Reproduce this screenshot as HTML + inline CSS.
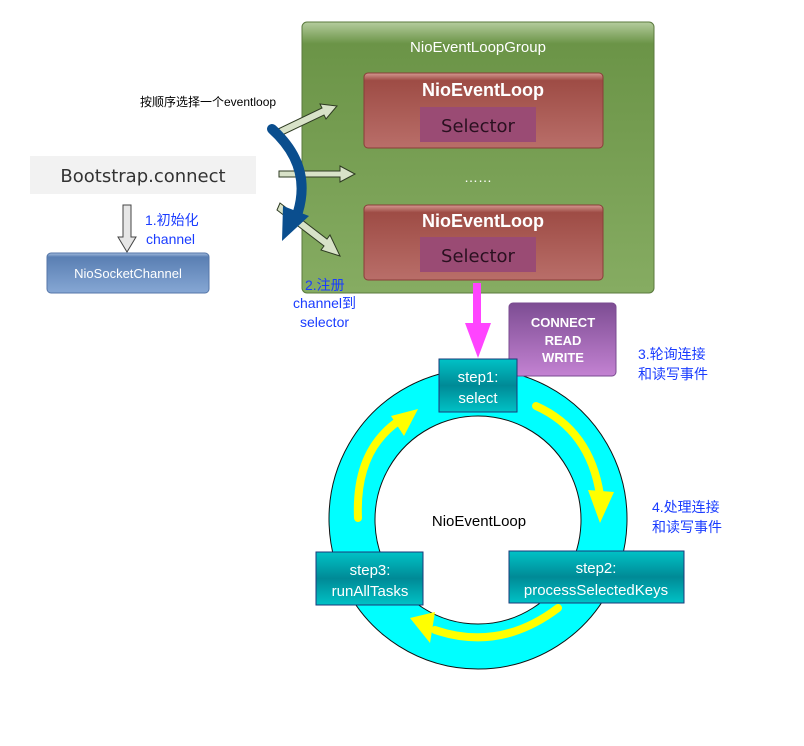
<!DOCTYPE html>
<html><head><meta charset="utf-8"><style>
body{margin:0;background:#fff}
svg text{font-family:"Liberation Sans","Noto Sans CJK SC",sans-serif}
</style></head><body>
<svg width="804" height="741" viewBox="0 0 804 741" xmlns="http://www.w3.org/2000/svg">
<defs>
<linearGradient id="g" x1="0" y1="0" x2="0" y2="1"><stop offset="0" stop-color="#b5cc9e"/><stop offset="0.08" stop-color="#6b9447"/><stop offset="1" stop-color="#86ac62"/></linearGradient>
<linearGradient id="r" x1="0" y1="0" x2="0" y2="1"><stop offset="0" stop-color="#d59a92"/><stop offset="0.1" stop-color="#9e4c45"/><stop offset="1" stop-color="#b96e69"/></linearGradient>
<linearGradient id="b" x1="0" y1="0" x2="0" y2="1"><stop offset="0" stop-color="#a6bfe0"/><stop offset="0.1" stop-color="#5a7fb3"/><stop offset="1" stop-color="#86a7d4"/></linearGradient>
<linearGradient id="p" x1="0" y1="0" x2="0" y2="1"><stop offset="0" stop-color="#7d4d93"/><stop offset="1" stop-color="#c382d2"/></linearGradient>
<linearGradient id="t" x1="0" y1="0" x2="0" y2="1"><stop offset="0" stop-color="#00c2c6"/><stop offset="0.5" stop-color="#008a96"/><stop offset="1" stop-color="#00c2c6"/></linearGradient>
</defs>
<rect x="302" y="22" width="352" height="271" rx="5" fill="url(#g)" stroke="#5b7a3e"/>
<text x="478" y="52" font-size="15" fill="#fff" text-anchor="middle">NioEventLoopGroup</text>
<rect x="364" y="73" width="239" height="75" rx="4" fill="url(#r)" stroke="#8a3d38"/>
<text x="483" y="96" font-size="18" fill="#fff" font-weight="bold" text-anchor="middle">NioEventLoop</text>
<rect x="420" y="107" width="116" height="35" fill="#9a4b74"/>
<text x="478" y="132" font-size="18" fill="#2a1020" text-anchor="middle" style="font-family:'DejaVu Sans',sans-serif">Selector</text>
<text x="478" y="182" font-size="14" fill="#fff" text-anchor="middle">……</text>
<rect x="364" y="205" width="239" height="75" rx="4" fill="url(#r)" stroke="#8a3d38"/>
<text x="483" y="227" font-size="18" fill="#fff" font-weight="bold" text-anchor="middle">NioEventLoop</text>
<rect x="420" y="237" width="116" height="35" fill="#9a4b74"/>
<text x="478" y="262" font-size="18" fill="#2a1020" text-anchor="middle" style="font-family:'DejaVu Sans',sans-serif">Selector</text>
<g fill="#d8e2c8" stroke="#2e3b22" stroke-width="1">
<polygon points="276,130 322,108 320,104 337,106 326,119 324,115 278,137"/>
<polygon points="279,171 340,171 340,166 355,174 340,182 340,177 279,177"/>
<polygon points="280,203 327,239 330,235 340,256 321,250 324,246 277,210"/>
</g>
<path d="M272,129 Q312,165 298,212" fill="none" stroke="#0a4e8e" stroke-width="10" stroke-linecap="round"/>
<polygon points="282,241 283,206 309,216" fill="#0a4e8e"/>
<text x="140" y="106" font-size="12" fill="#000">按顺序选择一个eventloop</text>
<rect x="30" y="156" width="226" height="38" fill="#f2f2f2"/>
<text x="143" y="182" font-size="18" fill="#333" text-anchor="middle" style="font-family:'DejaVu Sans',sans-serif">Bootstrap.connect</text>
<polygon points="123,205 131,205 131,237 136,237 127,252 118,237 123,237" fill="#e6e6e6" stroke="#444"/>
<text x="145" y="225" font-size="14" fill="#1a3cff">1.初始化</text>
<text x="146" y="244" font-size="14" fill="#1a3cff">channel</text>
<rect x="47" y="253" width="162" height="40" rx="4" fill="url(#b)" stroke="#5576a8"/>
<text x="128" y="278" font-size="13" fill="#fff" text-anchor="middle">NioSocketChannel</text>
<text x="305" y="290" font-size="14" fill="#1a3cff">2.注册</text>
<text x="293" y="308" font-size="14" fill="#1a3cff">channel到</text>
<text x="300" y="327" font-size="14" fill="#1a3cff">selector</text>
<rect x="473" y="283" width="8" height="42" fill="#ff44ff"/>
<polygon points="465,323 491,323 478,358" fill="#ff44ff"/>
<path fill-rule="evenodd" fill="#00ffff" stroke="#111" stroke-width="1" d="M478,369 a149,150 0 1,0 0.01,0 Z M478,416 a103,104 0 1,1 -0.01,0 Z"/>
<rect x="509" y="303" width="107" height="73" rx="4" fill="url(#p)" stroke="#7a4b90"/>
<text x="563" y="327" font-size="13" fill="#fff" text-anchor="middle" font-weight="bold">CONNECT</text>
<text x="563" y="345" font-size="13" fill="#fff" text-anchor="middle" font-weight="bold">READ</text>
<text x="563" y="362" font-size="13" fill="#fff" text-anchor="middle" font-weight="bold">WRITE</text>
<text x="638" y="359" font-size="14" fill="#1a3cff">3.轮询连接</text>
<text x="638" y="379" font-size="14" fill="#1a3cff">和读写事件</text>
<text x="652" y="512" font-size="14" fill="#1a3cff">4.处理连接</text>
<text x="652" y="532" font-size="14" fill="#1a3cff">和读写事件</text>
<g fill="none" stroke="#ffff00" stroke-width="8" stroke-linecap="round">
<path d="M536,406 Q590,430 600,495"/>
<path d="M558,608 Q500,652 435,630"/>
<path d="M358,518 Q355,450 400,420"/>
</g>
<g fill="#ffff00">
<polygon points="588,490 614,492 600,523"/>
<polygon points="410,618 435,612 430,643"/>
<polygon points="418,409 391,416 404,436"/>
</g>
<rect x="439" y="359" width="78" height="53" fill="url(#t)" stroke="#1a3a7a"/>
<text x="478" y="382" font-size="15" fill="#fff" text-anchor="middle">step1:</text>
<text x="478" y="403" font-size="15" fill="#fff" text-anchor="middle">select</text>
<rect x="509" y="551" width="175" height="52" fill="url(#t)" stroke="#1a3a7a"/>
<text x="596" y="573" font-size="15" fill="#fff" text-anchor="middle">step2:</text>
<text x="596" y="595" font-size="15" fill="#fff" text-anchor="middle">processSelectedKeys</text>
<rect x="316" y="552" width="107" height="53" fill="url(#t)" stroke="#1a3a7a"/>
<text x="370" y="575" font-size="15" fill="#fff" text-anchor="middle">step3:</text>
<text x="370" y="596" font-size="15" fill="#fff" text-anchor="middle">runAllTasks</text>
<text x="479" y="526" font-size="15" fill="#000" text-anchor="middle">NioEventLoop</text>
</svg>
</body></html>
